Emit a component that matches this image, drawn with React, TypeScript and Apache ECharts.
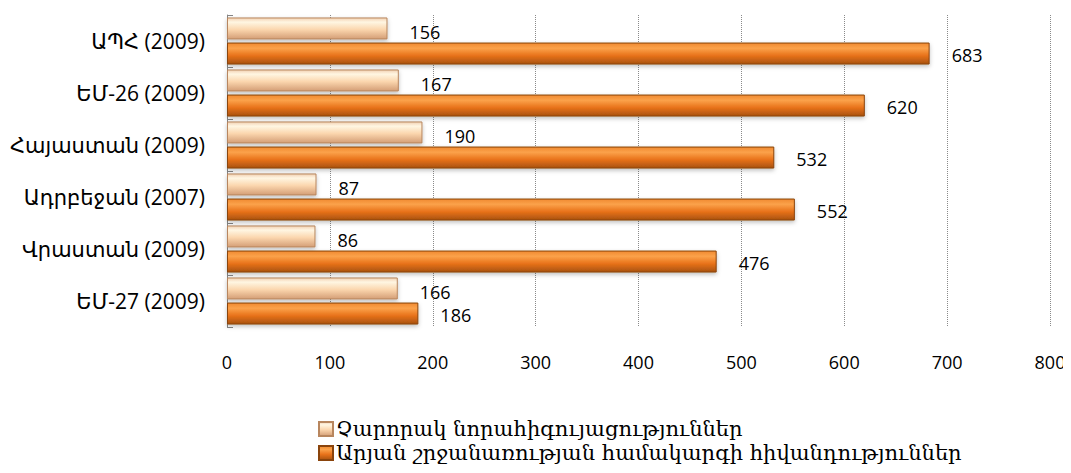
import React, { useEffect, useRef } from "react";
import * as echarts from "echarts";

const categories = [
  "ԱՊՀ (2009)",
  "ԵՄ-26 (2009)",
  "Հայաստան (2009)",
  "Ադրբեջան (2007)",
  "Վրաստան (2009)",
  "ԵՄ-27 (2009)",
];
const seriesNames = [
  "Չարորակ նորահիգույացություններ",
  "Արյան շրջանառության համակարգի հիվանդություններ",
];
const cancerValues = [156, 167, 190, 87, 86, 166];
const circulatoryValues = [683, 620, 532, 552, 476, 186];
const xTicks = { min: 0, max: 800, interval: 100 };

export default function App() {
  const ref = useRef<HTMLDivElement>(null);
  useEffect(() => {
    if (!ref.current) return;
    const chart = echarts.init(ref.current, null, { renderer: "svg" });
    const peach = new echarts.graphic.LinearGradient(0, 0, 0, 1, [
      { offset: 0, color: "#f3d2b4" },
      { offset: 0.2, color: "#fff6e2" },
      { offset: 0.55, color: "#fbd6ae" },
      { offset: 1, color: "#d49e76" },
    ]);
    const orange = new echarts.graphic.LinearGradient(0, 0, 0, 1, [
      { offset: 0, color: "#f08a30" },
      { offset: 0.25, color: "#fba24a" },
      { offset: 0.6, color: "#e8721a" },
      { offset: 1, color: "#a8520e" },
    ]);
    const sans = "'Open Sans', 'DejaVu Sans', sans-serif";
    const labelBase = {
      show: true,
      position: "right" as const,
      distance: 22,
      color: "#000",
      fontSize: 18,
      fontFamily: sans,
    };
    chart.setOption({
      animation: false,
      grid: { left: 227, right: 21, top: 15, bottom: 146, containLabel: false },
      legend: {
        orient: "vertical",
        left: 318,
        top: 418,
        height: 55,
        icon: "rect",
        itemWidth: 14,
        itemHeight: 14,
        itemGap: 2,
        padding: 0,
        textStyle: {
          fontSize: 21,
          lineHeight: 22,
          color: "#000",
          fontFamily: "'DejaVu Serif', serif",
          padding: [0, 0, 0, -2],
        },
        data: seriesNames,
      },
      xAxis: {
        type: "value",
        min: xTicks.min,
        max: xTicks.max,
        interval: xTicks.interval,
        axisLine: { show: false },
        axisTick: { show: false },
        axisLabel: {
          fontSize: 18,
          color: "#000",
          margin: 26,
          fontFamily: "'Open Sans', sans-serif",
        },
        splitLine: {
          show: true,
          lineStyle: { type: "dotted", color: "#8a8a8a", width: 1 },
        },
      },
      yAxis: {
        type: "category",
        inverse: true,
        data: categories,
        axisLine: { show: true, lineStyle: { color: "#868686", width: 1 } },
        axisTick: {
          show: true,
          inside: true,
          length: 6,
          lineStyle: { color: "#868686" },
        },
        axisLabel: {
          fontSize: 21,
          color: "#000",
          margin: 22,
          fontFamily: sans,
        },
      },
      series: [
        {
          name: seriesNames[0],
          type: "bar",
          data: cancerValues,
          barWidth: 22,
          barGap: "14%",
          itemStyle: {
            color: peach,
            borderColor: "#b8865e",
            borderWidth: 1,
            shadowColor: "rgba(0,0,0,0.25)",
            shadowBlur: 4,
            shadowOffsetY: 2,
          },
          label: { ...labelBase, offset: [0, 4] },
        },
        {
          name: seriesNames[1],
          type: "bar",
          data: circulatoryValues,
          barWidth: 22,
          barGap: "14%",
          itemStyle: {
            color: orange,
            borderColor: "#8a440c",
            borderWidth: 1,
            shadowColor: "rgba(0,0,0,0.25)",
            shadowBlur: 4,
            shadowOffsetY: 2,
          },
          label: { ...labelBase, offset: [0, 1] },
        },
      ],
    });
    return () => chart.dispose();
  }, []);
  return <div ref={ref} style={{ width: 1071, height: 473, margin: -8 }} />;
}
